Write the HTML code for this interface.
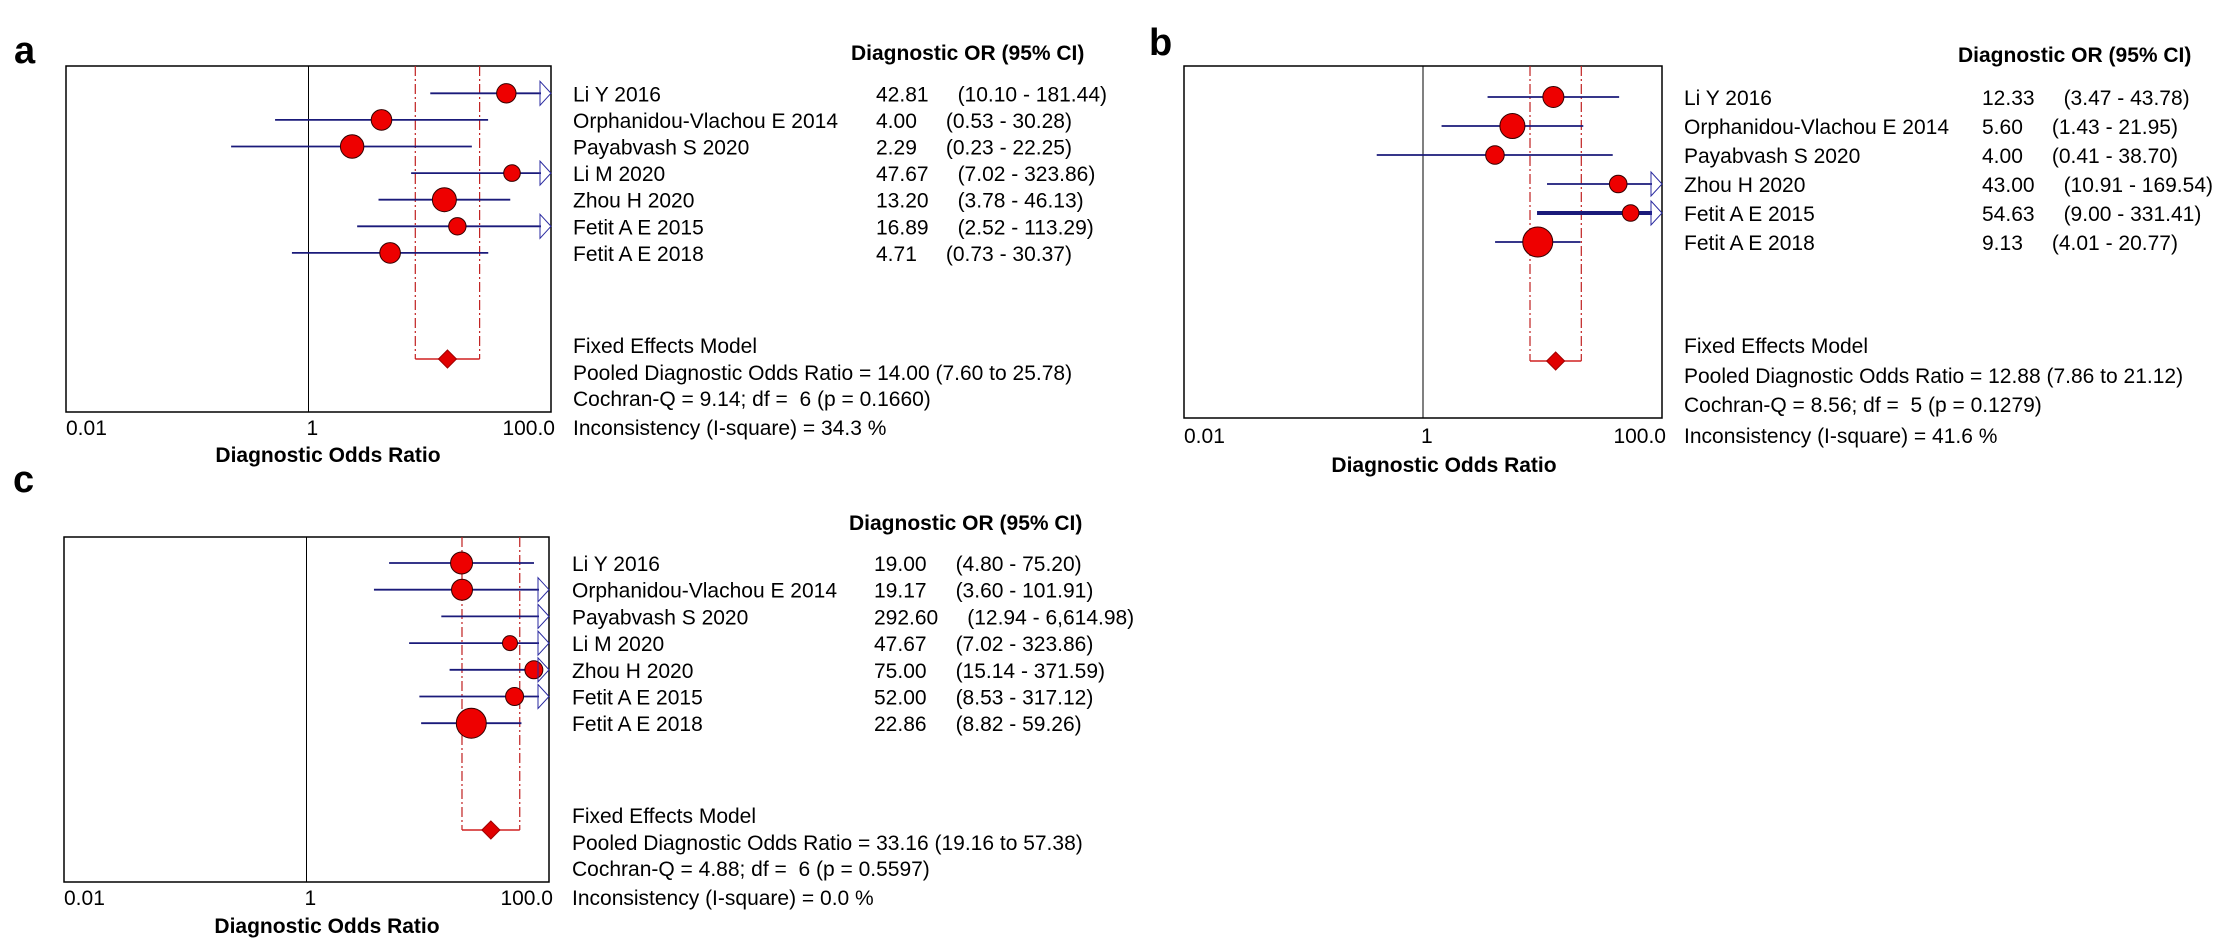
<!DOCTYPE html>
<html><head><meta charset="utf-8"><style>
html,body{margin:0;padding:0;background:#fff;width:2224px;height:946px;overflow:hidden}
svg text{font-family:"Liberation Sans",Arial,sans-serif;fill:#000;white-space:pre}
</style></head><body>
<svg id="fig" width="2224" height="946" viewBox="0 0 2224 946" xmlns="http://www.w3.org/2000/svg" xml:space="preserve"></svg>
<script>
// ---- Panel a data ----
const aStudies = ["Li Y 2016","Orphanidou-Vlachou E 2014","Payabvash S 2020","Li M 2020","Zhou H 2020","Fetit A E 2015","Fetit A E 2018"];
const aOR = [42.81,4.00,2.29,47.67,13.20,16.89,4.71];
const aLo = [10.10,0.53,0.23,7.02,3.78,2.52,0.73];
const aHi = [181.44,30.28,22.25,323.86,46.13,113.29,30.37];
const aR = [9.7,10.3,11.7,8.3,12,8.7,10.3];
const aPooled = [14.00,7.60,25.78];
const aStats = ["Cochran-Q = 9.14; df =  6 (p = 0.1660)","Inconsistency (I-square) = 34.3 %"];
// ---- Panel b data ----
const bStudies = ["Li Y 2016","Orphanidou-Vlachou E 2014","Payabvash S 2020","Zhou H 2020","Fetit A E 2015","Fetit A E 2018"];
const bOR = [12.33,5.60,4.00,43.00,54.63,9.13];
const bLo = [3.47,1.43,0.41,10.91,9.00,4.01];
const bHi = [43.78,21.95,38.70,169.54,331.41,20.77];
const bR = [10.5,12.5,9.3,8.8,8.3,15];
const bPooled = [12.88,7.86,21.12];
const bStats = ["Cochran-Q = 8.56; df =  5 (p = 0.1279)","Inconsistency (I-square) = 41.6 %"];
// ---- Panel c data ----
const cStudies = ["Li Y 2016","Orphanidou-Vlachou E 2014","Payabvash S 2020","Li M 2020","Zhou H 2020","Fetit A E 2015","Fetit A E 2018"];
const cOR = [19.00,19.17,292.60,47.67,75.00,52.00,22.86];
const cLo = [4.80,3.60,12.94,7.02,15.14,8.53,8.82];
const cHi = [75.20,101.91,6614.98,323.86,371.59,317.12,59.26];
const cCI = ["(4.80 - 75.20)","(3.60 - 101.91)","(12.94 - 6,614.98)","(7.02 - 323.86)","(15.14 - 371.59)","(8.53 - 317.12)","(8.82 - 59.26)"];
const cR = [11,10.5,10,7.5,9,9,15];
const cPooled = [33.16,19.16,57.38];
const cStats = ["Cochran-Q = 4.88; df =  6 (p = 0.5597)","Inconsistency (I-square) = 0.0 %"];
const tickLabels = ["0.01","1","100.0"];

const NS="http://www.w3.org/2000/svg";
const svg=document.getElementById('fig');
function mk(tag,attrs,parent){const e=document.createElementNS(NS,tag);for(const k in attrs)e.setAttribute(k,attrs[k]);(parent||svg).appendChild(e);return e;}
function f2(v){return v.toFixed(2);}

function panel(id,cfg,studies,or,lo,hi,rr,pooled,stats,ciText){
  const g=mk('g',{});
  
  
  const [x0,x1,y0,y1]=cfg.box;
  const xs=v=>x0+(Math.log10(v)+2)/4*(x1-x0);
  const clipId='clip-'+id;
  const cp=mk('clipPath',{id:clipId},g);mk('rect',{x:x0,y:y0,width:x1-x0,height:y1-y0},cp);
  const lab=mk('text',{x:cfg.labX,y:cfg.labY,'font-size':38,'font-weight':'bold'},g);lab.textContent=id;
  
  
  const box=mk('rect',{x:x0,y:y0,width:x1-x0,height:y1-y0,fill:'#fff',stroke:'#000','stroke-width':1.5},g);
  
  
  const ref=mk('line',{x1:xs(1),x2:xs(1),y1:y0,y2:y1,stroke:'#000','stroke-width':1},g);
  
  
  const pl=xs(pooled[1]),ph=xs(pooled[2]),pc=xs(pooled[0]);
  const dy=cfg.dY;
  for(const px of [pl,ph]){
    const d=mk('line',{x1:px,x2:px,y1:y0,y2:dy,stroke:'#c02020','stroke-width':1.2,'stroke-dasharray':'10,3,2,3'},g);
    
    
  }
  mk('line',{x1:pl,x2:ph,y1:dy,y2:dy,stroke:'#d02020','stroke-width':1.5},g);
  const dm=mk('polygon',{points:`${pc-9},${dy} ${pc},${dy-9} ${pc+9},${dy} ${pc},${dy+9}`,fill:'#e00000',stroke:'#a00000'},g);
  
  
  const hd=mk('text',{x:cfg.hdX,y:cfg.hdY,'font-size':21,'font-weight':'bold'},g);hd.textContent='Diagnostic OR (95% CI)';
  
  
  studies.forEach((s,i)=>{
    const y=cfg.r0+i*cfg.rd;
    const rg=mk('g',{'clip-path':`url(#${clipId})`},g);
    
    
    const lx=Math.max(xs(lo[i]),x0), hx=Math.min(xs(hi[i]),x1);
    const thick=(cfg.thick===i)?4:1.8;
    const ci=mk('line',{x1:lx,x2:hi[i]>100?x1-10:hx,y1:y,y2:y,stroke:'#1a1a7a','stroke-width':thick},rg);
    
    
    const m=mk('circle',{cx:xs(or[i]),cy:y,r:rr[i],fill:'#ee0000',stroke:'#300','stroke-width':1},rg);
    
    
    if(hi[i]>100){
      const ar=mk('polygon',{points:`${x1-11},${y-12} ${x1},${y} ${x1-11},${y+12}`,fill:'none',stroke:'#2a2aa0','stroke-width':1},g);
      
      
    }
    const ty=y+8;
    const t=mk('text',{x:cfg.txX,y:ty,'font-size':21},g);t.textContent=s;
    
    
    const v=mk('text',{x:cfg.vX,y:ty,'font-size':21},g);v.textContent=f2(or[i]);
    
    
    const w=v.getComputedTextLength();
    const c=mk('text',{x:cfg.vX+w+29,y:ty,'font-size':21},g);
    c.textContent=ciText?ciText[i]:`(${f2(lo[i])} - ${f2(hi[i])})`;
    
    
  });
  const lines=["Fixed Effects Model",`Pooled Diagnostic Odds Ratio = ${f2(pooled[0])} (${f2(pooled[1])} to ${f2(pooled[2])})`,stats[0],stats[1]];
  lines.forEach((s,i)=>{
    const t=mk('text',{x:cfg.txX,y:cfg.fy[i]+8,'font-size':21},g);t.textContent=s;
    
    
  });
  const tv=[0.01,1,100];
  tv.forEach((v,i)=>{
    const anchor=i===2?'end':'start';
    const x=i===2?x1+4:(i===1?xs(v)-2:x0);
    const t=mk('text',{x:x,y:cfg.fy[3]+8,'font-size':21,'text-anchor':anchor},g);t.textContent=tickLabels[i];
    
    
  });
  const at=mk('text',{x:cfg.atX,y:cfg.atY,'font-size':21,'font-weight':'bold','text-anchor':'middle'},g);
  at.textContent='Diagnostic Odds Ratio';
  
  
}
panel('a',{box:[66,551,66,412],labX:14,labY:63,r0:93.3,rd:26.6,dY:359,hdX:851,hdY:60,txX:573,vX:876,fy:[345,372,398,427],atX:328,atY:462},aStudies,aOR,aLo,aHi,aR,aPooled,aStats);
panel('b',{box:[1184,1662,66,418],labX:1149,labY:55,r0:97,rd:29,dY:361,hdX:1958,hdY:62,txX:1684,vX:1982,fy:[345,375,404,435],atX:1444,atY:472,thick:4},bStudies,bOR,bLo,bHi,bR,bPooled,bStats);
panel('c',{box:[64,549,537,882],labX:13,labY:492,r0:563,rd:26.7,dY:830,hdX:849,hdY:530,txX:572,vX:874,fy:[815,842,868,897],atX:327,atY:933},cStudies,cOR,cLo,cHi,cR,cPooled,cStats,cCI);
</script>
</body></html>
